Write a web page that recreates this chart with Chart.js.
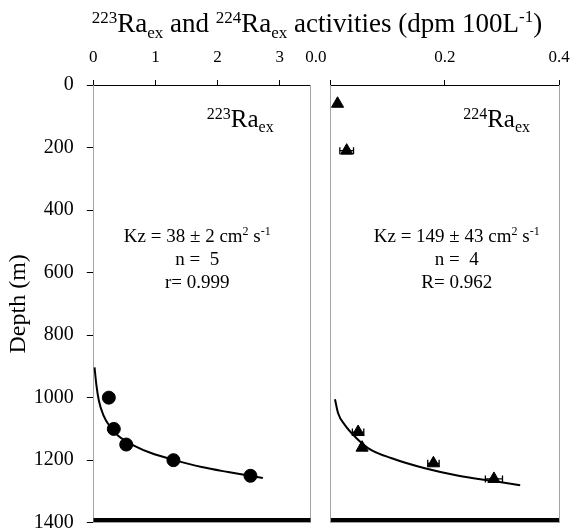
<!DOCTYPE html>
<html><head><meta charset="utf-8">
<script src="https://cdn.jsdelivr.net/npm/chart.js@4/dist/chart.umd.min.js"></script>
<style>
html,body{margin:0;padding:0;background:#fff;}
#wrap{position:relative;width:572px;height:531px;background:#fff;}
canvas{position:absolute;left:0;top:0;}
</style></head><body>
<div id="wrap"><canvas id="c1" width="572" height="531"></canvas><canvas id="c2" width="572" height="531"></canvas></div>
<script>
// ---- data ----
const depthRange = [0, 1400];
const depthStep = 200;
const ra223Range = [0, 3.5];
const ra224Range = [0, 0.4];

const ra223Activity = [0.25, 0.33, 0.53, 1.29, 2.53];
const ra223Depth    = [1000, 1100, 1150, 1200, 1250];
const ra223FitActivity = [0.02, 0.05, 0.09, 0.16, 0.27, 0.40, 0.67, 0.94, 1.29, 1.745, 2.17, 2.73];
const ra223FitDepth    = [903, 960, 1010, 1055, 1093, 1122, 1155, 1178, 1199, 1222, 1238, 1257];

const ra224Activity = [0.012, 0.028, 0.048, 0.055, 0.180, 0.286];
const ra224Depth    = [60, 210, 1110, 1160, 1210, 1260];
const ra224Error    = [0.003, 0.012, 0.010, 0.004, 0.010, 0.015];
const ra224FitActivity = [0.0075, 0.013, 0.025, 0.0426, 0.066, 0.107, 0.165, 0.224, 0.282, 0.332];
const ra224FitDepth    = [1005, 1050, 1088, 1125, 1162, 1194, 1226, 1250, 1266, 1280];

const seafloorDepth = 1391;

// ---- helpers ----
const FONT = '"Liberation Serif", "Times New Roman", serif';
const GRAY = '#a3a3a3';
const pts = (xs, ys) => xs.map((x, i) => ({x: x, y: ys[i]}));

function drawRich(ctx, parts, x, y, align) {
  let w = 0;
  parts.forEach(p => { ctx.font = p[1] + 'px ' + FONT; p.w = ctx.measureText(p[0]).width; w += p.w; });
  let cx = align === 'center' ? x - w / 2 : (align === 'right' ? x - w : x);
  ctx.save();
  ctx.fillStyle = '#000';
  ctx.textAlign = 'left';
  ctx.textBaseline = 'alphabetic';
  parts.forEach(p => { ctx.font = p[1] + 'px ' + FONT; ctx.fillText(p[0], cx, y + p[2]); cx += p.w; });
  ctx.restore();
}

function fixW(w) { return s => { s.width = w; s.paddingTop = 0; s.paddingBottom = 0; s.paddingLeft = 0; s.paddingRight = 0; }; }
function fixH(h) { return s => { s.height = h; s.paddingTop = 0; s.paddingBottom = 0; s.paddingLeft = 0; s.paddingRight = 0; }; }

function frameAxis(pos, range, fit) {
  return {
    type: 'linear', position: pos, min: range[0], max: range[1],
    reverse: pos === 'left' || pos === 'right',
    ticks: {display: false},
    grid: {display: false, drawTicks: false},
    border: {display: true, color: GRAY, width: 1},
    afterFit: fit
  };
}

// ---- left chart (223Ra) ----
const leftPlugin = {
  id: 'leftText',
  afterDraw(chart) {
    const ctx = chart.ctx, a = chart.chartArea;
    // overall title
    drawRich(ctx, [['223', 17, -9], ['Ra', 27, 0], ['ex', 17, 6], [' and ', 27, 0],
                   ['224', 17, -9], ['Ra', 27, 0], ['ex', 17, 6],
                   [' activities (dpm 100L', 27, 0], ['-1', 17, -10], [')', 27, 0]], 317, 32, 'center');
    drawRich(ctx, [['223', 16, -8], ['Ra', 25, 0], ['ex', 16, 5]], a.right - 37, a.top + 42, 'right');
    const cx = a.left + 104;
    drawRich(ctx, [['Kz = 38 \u00b1 2 cm', 19, 0], ['2', 12, -7], [' s', 19, 0], ['-1', 12, -7]], cx, a.top + 157, 'center');
    drawRich(ctx, [['n =  5', 19, 0]], cx, a.top + 180, 'center');
    drawRich(ctx, [['r= 0.999', 19, 0]], cx, a.top + 203, 'center');
  }
};

new Chart(document.getElementById('c1'), {
  type: 'scatter',
  data: {
    datasets: [
      {label: '223Ra', data: pts(ra223Activity, ra223Depth), pointStyle: 'circle', pointRadius: 6.5,
       pointBackgroundColor: '#000', pointBorderColor: '#000', showLine: false, order: 1},
      {label: 'fit', data: pts(ra223FitActivity, ra223FitDepth), showLine: true, pointRadius: 0,
       borderColor: '#000', borderWidth: 2, cubicInterpolationMode: 'monotone', order: 2},
      {label: 'seafloor', data: pts(ra223Range, [seafloorDepth, seafloorDepth]), showLine: true, pointRadius: 0,
       borderColor: '#000', borderWidth: 4, order: 3}
    ]
  },
  options: {
    responsive: false, animation: false, devicePixelRatio: 1,
    layout: {padding: {left: 0, top: 0, right: 261.3, bottom: 8.3}, autoPadding: false},
    plugins: {legend: {display: false}, tooltip: {enabled: false}},
    scales: {
      x: {
        type: 'linear', position: 'top', min: ra223Range[0], max: ra223Range[1],
        ticks: {stepSize: 1, includeBounds: false, color: '#000', font: {family: FONT, size: 17}, padding: 12},
        grid: {drawOnChartArea: false, drawTicks: true, tickLength: 5, color: '#000'},
        border: {color: '#000', width: 1},
        afterFit: fixH(85)
      },
      y: {
        type: 'linear', position: 'left', reverse: true, min: depthRange[0], max: depthRange[1],
        ticks: {stepSize: depthStep, color: '#000', font: {family: FONT, size: 20}, padding: 13,
                callback: v => String(v)},
        grid: {drawOnChartArea: false, drawTicks: true, tickLength: 6.5, color: '#000'},
        border: {color: GRAY, width: 1},
        title: {display: true, text: 'Depth (m)', color: '#000', font: {family: FONT, size: 24}, padding: {top: 4, bottom: 0}},
        afterFit: fixW(93.3)
      },
      yr: frameAxis('right', depthRange, fixW(0)),
      xb: frameAxis('bottom', [0, 1], fixH(0))
    }
  },
  plugins: [leftPlugin]
});

// ---- right chart (224Ra) ----
const rightPlugin = {
  id: 'rightText',
  afterDatasetsDraw(chart) {
    const ctx = chart.ctx, xs = chart.scales.x, ys = chart.scales.y;
    ctx.save();
    ctx.strokeStyle = '#000';
    ctx.lineWidth = 1.3;
    ra224Activity.forEach((v, i) => {
      const e = ra224Error[i];
      const x1 = xs.getPixelForValue(v - e), x2 = xs.getPixelForValue(v + e), y = ys.getPixelForValue(ra224Depth[i]);
      ctx.beginPath();
      ctx.moveTo(x1, y); ctx.lineTo(x2, y);
      ctx.moveTo(x1, y - 3.5); ctx.lineTo(x1, y + 3.5);
      ctx.moveTo(x2, y - 3.5); ctx.lineTo(x2, y + 3.5);
      ctx.stroke();
    });
    ctx.restore();
  },
  afterDraw(chart) {
    const ctx = chart.ctx, a = chart.chartArea;
    drawRich(ctx, [['224', 16, -8], ['Ra', 25, 0], ['ex', 16, 5]], a.right - 29, a.top + 42, 'right');
    const cx = a.left + 126;
    drawRich(ctx, [['Kz = 149 \u00b1 43 cm', 19, 0], ['2', 12, -7], [' s', 19, 0], ['-1', 12, -7]], cx, a.top + 157, 'center');
    drawRich(ctx, [['n =  4', 19, 0]], cx, a.top + 180, 'center');
    drawRich(ctx, [['R= 0.962', 19, 0]], cx, a.top + 203, 'center');
  }
};

new Chart(document.getElementById('c2'), {
  type: 'scatter',
  data: {
    datasets: [
      {label: '224Ra', data: pts(ra224Activity, ra224Depth), pointStyle: 'triangle', pointRadius: 7,
       pointBackgroundColor: '#000', pointBorderColor: '#000', showLine: false, order: 1},
      {label: 'fit', data: pts(ra224FitActivity, ra224FitDepth), showLine: true, pointRadius: 0,
       borderColor: '#000', borderWidth: 2, cubicInterpolationMode: 'monotone', order: 2},
      {label: 'seafloor', data: pts(ra224Range, [seafloorDepth, seafloorDepth]), showLine: true, pointRadius: 0,
       borderColor: '#000', borderWidth: 4, order: 3}
    ]
  },
  options: {
    responsive: false, animation: false, devicePixelRatio: 1,
    layout: {padding: {left: 330.7, top: 0, right: 13, bottom: 8.3}, autoPadding: false},
    plugins: {legend: {display: false}, tooltip: {enabled: false}},
    scales: {
      x: {
        type: 'linear', position: 'top', min: ra224Range[0], max: ra224Range[1],
        ticks: {stepSize: 0.2, color: '#000', font: {family: FONT, size: 17}, padding: 12,
                callback: v => v === 0 ? '0.0       ' : v.toFixed(1)},
        grid: {drawOnChartArea: false, drawTicks: true, tickLength: 5, color: '#000'},
        border: {color: '#000', width: 1},
        afterFit: fixH(85)
      },
      y: frameAxis('left', depthRange, fixW(0)),
      yr: frameAxis('right', depthRange, fixW(0)),
      xb: frameAxis('bottom', [0, 1], fixH(0))
    }
  },
  plugins: [rightPlugin]
});
</script>
</body></html>
